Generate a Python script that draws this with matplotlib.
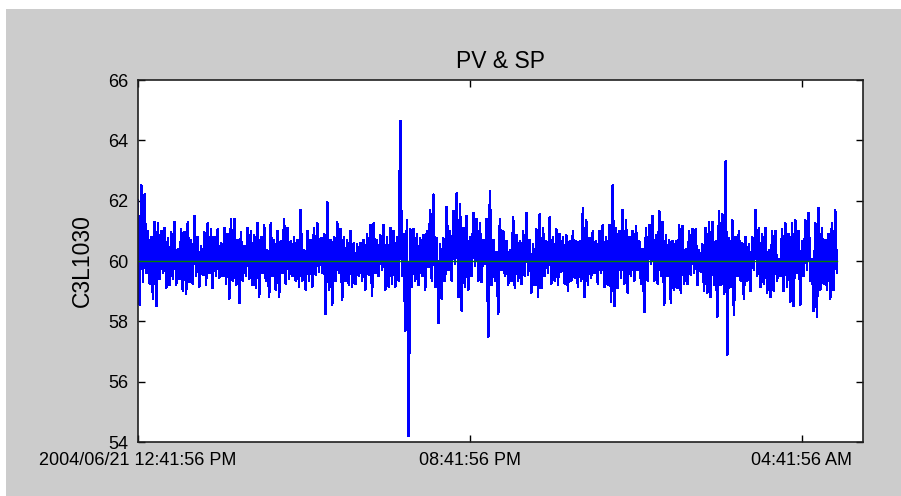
import numpy as np
import pandas as pd
import matplotlib
matplotlib.use('Agg')
import matplotlib.pyplot as plt
from matplotlib.patches import Rectangle

plt.rcParams['font.family'] = 'Liberation Sans'
plt.rcParams['path.simplify'] = False

# PV trend, stored as (high, low) pairs per sample interval
pv_high = [
    62.0, 62.5, 62.2, 61.0, 60.8, 61.3, 61.25, 61.0, 61.1, 60.75, 60.95, 61.3,
    60.4, 61.05, 60.95, 61.3, 60.7, 61.5, 60.8, 60.5, 60.95, 61.25, 61.05, 60.8,
    61.05, 60.6, 61.1, 60.9, 61.4, 61.4, 60.7, 60.95, 60.5, 61.1, 61.0, 60.85,
    61.25, 60.8, 61.2, 60.35, 61.25, 60.7, 61.0, 60.65, 61.4, 61.1, 60.65, 60.8,
    60.7, 61.7, 60.35, 61.0, 60.7, 61.1, 61.25, 60.75, 60.9, 61.95, 60.7, 60.8,
    61.3, 61.05, 60.8, 60.7, 61.0, 60.6, 60.55, 60.6, 60.7, 60.9, 61.2,
    61.25, 60.7, 60.85, 61.2, 60.8, 61.1, 61.0, 60.8, 64.65, 60.9, 61.35, 61.05,
    61.05, 60.9, 60.75, 60.85, 61.0, 61.7, 62.2, 60.75, 60.55, 60.75, 61.8, 61.0,
    61.65, 62.25, 61.9, 61.1, 61.5, 60.8, 61.6, 61.4, 61.25, 60.7, 61.4,
    62.3, 60.7, 60.3, 61.4, 61.0, 60.65, 60.35, 61.45, 60.85, 60.65, 61.0, 61.6,
    60.7, 60.55, 61.05, 61.55, 61.1, 60.65, 61.45, 60.8, 61.05, 60.9, 60.8, 60.85,
    60.65, 61.0, 60.65, 60.65, 61.75, 61.35, 60.75, 61.0, 60.65, 61.0, 61.2,
    60.8, 61.2, 62.5, 61.1, 61.0, 61.7, 61.35, 60.8, 61.0, 61.15, 60.65, 60.4,
    61.1, 61.2, 61.5, 60.85, 61.65, 61.3, 60.85, 60.7, 60.65, 60.65, 61.2, 61.15,
    60.4, 61.0, 61.05, 61.05, 60.35, 60.55, 61.1, 61.3, 61.3, 60.65, 61.65,
    61.55, 63.3, 60.75, 61.35, 60.8, 61.0, 60.6, 60.8, 60.55, 60.8, 61.7, 61.1,
    60.9, 61.1, 60.35, 61.0, 61.0, 60.05, 61.05, 61.25, 60.9, 61.25, 61.35, 61.0,
    60.65, 61.35, 61.6, 60.05, 61.25, 61.75, 61.1, 60.7, 60.9, 61.25, 61.7,
]
pv_low = [
    58.55, 59.3, 59.6, 59.25, 58.75, 58.5, 59.4, 59.6, 59.1, 59.2, 59.4, 59.2,
    59.4, 59.0, 58.9, 59.3, 59.25, 59.5, 59.15, 59.55, 59.2, 59.6, 59.1, 59.5,
    59.45, 59.5, 59.25, 58.75, 59.35, 59.2, 58.6, 59.35, 59.5, 59.4, 59.2, 59.1,
    58.8, 59.6, 59.35, 58.8, 59.5, 59.05, 58.8, 59.6, 59.25, 59.4, 59.5, 59.35,
    59.15, 59.35, 59.05, 59.35, 59.15, 59.55, 59.65, 59.6, 58.25, 59.05, 58.55, 59.35,
    59.6, 58.7, 59.35, 59.2, 59.15, 59.25, 59.5, 59.35, 59.05, 59.55, 58.85,
    59.6, 59.5, 59.7, 59.05, 59.15, 59.25, 59.15, 59.35, 59.5, 57.7, 54.2, 59.15,
    59.35, 59.2, 59.5, 59.05, 59.8, 59.35, 59.15, 57.95, 58.75, 59.35, 59.7, 59.35,
    59.9, 58.8, 58.35, 59.15, 59.05, 59.5, 59.85, 59.35, 59.3, 59.9, 57.5,
    59.2, 59.35, 58.25, 59.7, 59.5, 59.2, 59.35, 59.1, 59.35, 59.25, 59.5, 59.55,
    58.95, 59.2, 58.8, 59.1, 59.5, 59.6, 59.25, 59.35, 59.2, 59.65, 59.25, 59.0,
    59.35, 59.45, 59.15, 59.35, 58.8, 59.2, 59.45, 59.6, 59.25, 59.6, 59.15,
    59.2, 58.65, 58.5, 59.1, 59.45, 59.25, 58.95, 59.5, 59.35, 59.7, 59.25, 58.3,
    59.35, 59.9, 59.35, 59.25, 59.5, 58.55, 59.5, 58.6, 59.05, 59.1, 58.95, 59.25,
    59.25, 59.55, 59.6, 59.2, 59.65, 59.0, 58.95, 58.8, 59.2, 58.15, 59.2,
    58.9, 56.9, 59.15, 58.2, 59.5, 59.35, 58.75, 59.35, 59.0, 59.7, 59.5, 59.15,
    59.25, 58.95, 58.8, 59.0, 59.35, 59.5, 59.0, 59.15, 58.65, 58.5, 59.6, 58.55,
    59.5, 59.7, 59.35, 58.35, 58.15, 59.05, 59.25, 59.05, 58.75, 59.05, 59.6,
]
sp_level = 60.0

t_start = '2004-06-21 12:41:56'
t_end = '2004-06-22 06:10:08'
tick_times = ['2004-06-21 12:41:56', '2004-06-21 20:41:56', '2004-06-22 04:41:56']
tick_labels = ['2004/06/21 12:41:56 PM', '08:41:56 PM', '04:41:56 AM']
y_ticks = [54, 56, 58, 60, 62, 64, 66]

pv = np.column_stack([pv_high, pv_low]).ravel()
t = pd.date_range(t_start, periods=len(pv), freq='144s')

fig = plt.figure(figsize=(9.01, 4.96), dpi=100, facecolor='white')
fig.add_artist(Rectangle((6 / 901, 0), 1, 487 / 496, transform=fig.transFigure,
                         facecolor='#cccccc', edgecolor='none', zorder=-1))
ax = fig.add_axes([138 / 901, 54 / 496, 725 / 901, 362 / 496])
ax.set_facecolor('white')

ax.plot(t, pv, color='#0000ff', lw=1.1, antialiased=False)
ax.plot([t[0], t[-1]], [sp_level, sp_level], color='#008000', lw=1.0)

ax.set_xlim(pd.Timestamp(t_start), pd.Timestamp(t_end))
ax.set_ylim(54, 66)
ax.set_yticks(y_ticks)
ax.set_xticks(pd.to_datetime(tick_times))
ax.set_xticklabels(tick_labels)
ax.tick_params(direction='in', length=5, width=1, top=True, right=True,
               labelsize=13, colors='black')
ax.tick_params(axis='y', pad=7)
ax.tick_params(axis='x', pad=7)
for s in ax.spines.values():
    s.set_linewidth(1.2)
    s.set_color('#202020')

ax.set_title('PV & SP', fontsize=16.5, pad=9)
ax.set_ylabel('C3L1030', fontsize=16.5, labelpad=10)

fig.savefig('out.png', dpi=100, facecolor=fig.get_facecolor())
